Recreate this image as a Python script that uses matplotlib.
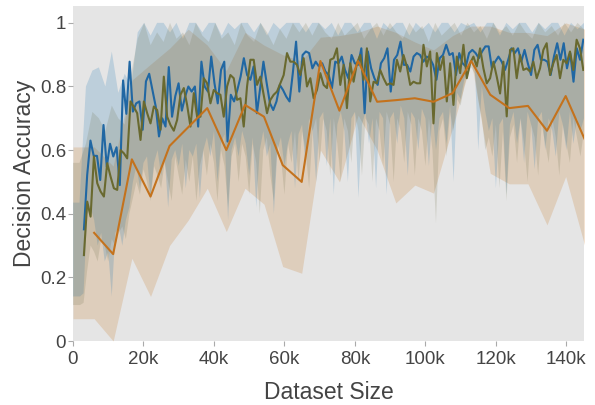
import matplotlib
matplotlib.use("Agg")
import matplotlib.pyplot as plt
import numpy as np

plt.rcParams['font.family'] = ['Liberation Sans', 'DejaVu Sans']

# courbe bleue (moyenne), de 3.1k a 144.8k
blue_mean = [0.351, 0.522, 0.63, 0.582, 0.582, 0.506, 0.679, 0.548, 0.62, 0.58,
             0.609, 0.49, 0.819, 0.714, 0.878, 0.721, 0.747, 0.753, 0.664, 0.816,
             0.84, 0.789, 0.737, 0.643, 0.70, 0.674, 0.861, 0.705, 0.77, 0.81,
             0.724, 0.768, 0.80, 0.784,
             0.80, 0.674, 0.878, 0.80, 0.784, 0.894, 0.81, 0.747, 0.852, 0.878,
             0.627, 0.774, 0.753, 0.789, 0.831, 0.889, 0.836, 0.821, 0.863, 0.716,
             0.795, 0.878, 0.81, 0.747, 0.726, 0.753, 0.805, 0.789, 0.768, 0.753,
             0.842, 0.941, 0.784, 0.899, 0.91, 0.905, 0.857, 0.878, 0.863, 0.873,
             0.847,
             0.836, 0.795, 0.878, 0.873, 0.894, 0.852, 0.826, 0.899, 0.873, 0.868,
             0.92, 0.716, 0.91, 0.857, 0.826, 0.805, 0.873, 0.889, 0.92, 0.784,
             0.884, 0.899, 0.941, 0.868, 0.868, 0.847, 0.894, 0.905, 0.899, 0.878,
             0.894, 0.889, 0.868, 0.821, 0.889, 0.899, 0.931, 0.899,
             0.905, 0.836, 0.905, 0.873, 0.863, 0.905, 0.915, 0.905, 0.889, 0.91,
             0.926, 0.926, 0.857, 0.878, 0.894, 0.878, 0.852, 0.884, 0.92, 0.905,
             0.92, 0.878, 0.915, 0.873, 0.836, 0.915, 0.931, 0.884, 0.884, 0.878,
             0.836, 0.894, 0.936, 0.884, 0.936, 0.857, 0.905, 0.815, 0.92, 0.884,
             0.947]

# courbe olive
olive_mean = [0.27, 0.438, 0.391, 0.58, 0.496, 0.47, 0.454, 0.559, 0.517, 0.48,
              0.475, 0.60, 0.59, 0.574, 0.753, 0.735, 0.716, 0.632, 0.753, 0.716,
              0.684, 0.737, 0.726, 0.664, 0.831, 0.705, 0.679, 0.661, 0.695, 0.774,
              0.795, 0.742,
              0.674, 0.779, 0.705, 0.705, 0.826, 0.81, 0.747, 0.789, 0.779, 0.774,
              0.705, 0.80, 0.836, 0.826, 0.758, 0.763, 0.674, 0.80, 0.884, 0.884,
              0.805, 0.831, 0.774, 0.716, 0.758, 0.774, 0.784, 0.81, 0.836, 0.905,
              0.878, 0.878, 0.868, 0.836, 0.889, 0.80, 0.826, 0.763, 0.789,
              0.842, 0.805, 0.795, 0.884, 0.889, 0.92, 0.805, 0.868, 0.732, 0.873,
              0.815, 0.873, 0.899, 0.821, 0.92, 0.753, 0.815, 0.81, 0.852, 0.826,
              0.805, 0.81, 0.805, 0.884, 0.847, 0.899, 0.863, 0.805, 0.815, 0.81,
              0.81, 0.931, 0.863, 0.91, 0.684, 0.905, 0.852, 0.894, 0.753,
              0.873, 0.742, 0.894, 0.842, 0.931, 0.826, 0.873, 0.894, 0.863, 0.92,
              0.857, 0.81, 0.826, 0.878, 0.831, 0.778, 0.878, 0.706, 0.915, 0.92,
              0.826, 0.899, 0.852, 0.857, 0.847, 0.878, 0.826, 0.857, 0.915, 0.936,
              0.836, 0.873, 0.899, 0.826, 0.884, 0.873, 0.91, 0.852, 0.947, 0.92,
              0.852]

# courbe orange, moins de points (x en milliers)
orange_x = [6.0, 11.4, 16.7, 22.0, 27.4, 32.7, 38.1, 43.5, 48.8, 54.2, 59.5, 64.9,
            70.2, 75.6, 80.9, 86.3, 91.6, 97.0, 102.3, 107.7, 113.0, 118.4, 123.8,
            129.1, 134.5, 139.8, 145.2]
orange_mean = [0.34, 0.273, 0.571, 0.454, 0.613, 0.672, 0.732, 0.60, 0.742, 0.705,
               0.553, 0.50, 0.88, 0.724, 0.88, 0.752, 0.757, 0.763, 0.752, 0.779,
               0.88, 0.774, 0.732, 0.739, 0.661, 0.770, 0.634]
# enveloppe orange (premier point a x=0)
orange_hi = [0.61, 0.61, 0.55, 0.82, 0.87, 0.92, 0.98, 0.93, 0.85, 0.97, 0.93, 0.90,
             0.88, 0.955, 0.96, 0.97, 0.99, 0.97, 0.94, 0.915, 0.96, 0.99, 0.99,
             0.97, 0.97, 0.96, 1.0, 0.98]
orange_lo = [0.07, 0.07, 0.0, 0.26, 0.14, 0.30, 0.38, 0.48, 0.344, 0.48, 0.43,
             0.234, 0.213, 0.60, 0.50, 0.71, 0.60, 0.434, 0.49, 0.465, 0.67, 0.88,
             0.527, 0.494, 0.494, 0.365, 0.517, 0.30]

# bords hauts des enveloppes bleue et olive (grille de 80 points, 0 -> 145k)
blue_hi = [.435, .435, .80, .85, .86, .80, .91, .78, .84, .80,
           .97, 1.0, .96, 1.0, 1.0, .97, 1.0, .95, 1.0, 1.0,
           .97, 1.0, 1.0, .96, 1.0, .98, 1.0, 1.0, .97, 1.0,
           .96, 1.0, .98, 1.0, 1.0, 1.0, .97, 1.0, 1.0, .98,
           1.0, .96, 1.0, 1.0, .97, 1.0, 1.0, .95, 1.0, .98,
           1.0, 1.0, .96, 1.0, .98, 1.0, .97, 1.0, 1.0, .97,
           1.0, .99, 1.0, .97, 1.0, 1.0, .96, 1.0, .98, 1.0,
           1.0, .97, 1.0, .98, 1.0, 1.0, .96, 1.0, .98, 1.0]
olive_hi = [.56, .56, .62, .72, .70, .66, .74, .70, .68, .84,
            .95, 1.0, .93, .97, .94, 1.0, .95, .97, .93, 1.0,
            .96, .94, 1.0, .95, .97, .93, 1.0, .96, .94, 1.0,
            .97, .93, .98, .95, 1.0, .97, 1.0, .96, 1.0, .97,
            .95, 1.0, .96, .98, 1.0, .95, .98, 1.0, .96, 1.0,
            .97, .95, 1.0, .97, .99, .94, 1.0, .96, .98, 1.0,
            .96, 1.0, .97, .99, .95, 1.0, .97, .99, .96, 1.0,
            .97, .95, 1.0, .97, .99, .96, 1.0, .97, 1.0, .98]

# bords bas (un point tous les 1k, de 0 a 145k) : beaucoup de pointes vers le bas
blue_lo = [.14, .14, .14, .15, .40, .42, .38, .30, .34, .25,
           .28, .14, .34, .36, .30, .38, .42, .50, .55, .48,
           .56, .58, .45, .56, .60, .52, .58, .42, .57, .60,
           .55, .62, .48, .60, .58, .62, .45, .60, .64, .58,
           .66, .50, .62, .65, .38, .60, .64, .58, .66, .62,
           .52, .64, .42, .60, .66, .58, .62, .40, .60, .64,
           .55, .62, .66, .48, .65, .68, .55, .70, .66, .50,
           .70, .72, .55, .70, .46, .68, .72, .66, .50, .70,
           .72, .45, .68, .72, .62, .70, .48, .72, .70, .46,
           .70, .72, .62, .74, .70, .52, .72, .70, .60, .73,
           .70, .55, .72, .60, .70, .72, .62, .74, .50, .78,
           .76, .82, .86, .88, .86, .60, .80, .72, .66, .70,
           .48, .68, .70, .46, .68, .72, .62, .70, .56, .72,
           .68, .54, .70, .72, .60, .70, .66, .58, .72, .68,
           .60, .72, .62, .70, .66, .70]
olive_lo = [.113, .113, .113, .12, .22, .30, .28, .25, .32, .30,
            .25, .32, .30, .34, .36, .32, .40, .45, .50, .46,
            .54, .50, .44, .55, .52, .48, .56, .50, .44, .58,
            .52, .46, .57, .50, .58, .44, .55, .60, .52, .62,
            .56, .44, .60, .55, .42, .58, .62, .50, .62, .58,
            .46, .62, .56, .40, .60, .64, .52, .44, .62, .58,
            .46, .62, .56, .66, .50, .66, .60, .48, .66, .70,
            .56, .70, .66, .52, .70, .62, .50, .70, .66, .56,
            .72, .66, .52, .70, .68, .50, .70, .66, .55, .72,
            .68, .50, .70, .66, .56, .72, .68, .52, .70, .66,
            .55, .70, .60, .37, .66, .70, .58, .72, .66, .76,
            .74, .80, .84, .86, .84, .76, .70, .60, .64, .58,
            .68, .48, .66, .44, .64, .68, .56, .70, .62, .50,
            .68, .64, .52, .68, .62, .56, .70, .64, .52, .68,
            .62, .56, .70, .64, .58, .66]

x_ticks = [0, 20000, 40000, 60000, 80000, 100000, 120000, 140000]
x_labels = ["0", "20k", "40k", "60k", "80k", "100k", "120k", "140k"]
y_ticks = [0, 0.2, 0.4, 0.6, 0.8, 1.0]
y_labels = ["0", "0.2", "0.4", "0.6", "0.8", "1"]

c_blue = "#2067a3"
c_olive = "#69692f"
c_orange = "#c4721c"
txt = "#444444"

blue_x = np.linspace(3100, 144800, len(blue_mean))
olive_x = np.linspace(3100, 144800, len(olive_mean))
hi_x = np.linspace(0, 145000, len(blue_hi))
lo_x = np.linspace(0, 145000, len(blue_lo))
orange_xx = np.array(orange_x) * 1000
orange_band_x = np.concatenate([[0], orange_xx])


def band(ax, x_hi, y_hi, x_lo, y_lo, **kw):
    # polygone : bord haut de gauche a droite, puis bord bas de droite a gauche
    xs = np.concatenate([x_hi, x_lo[::-1]])
    ys = np.concatenate([y_hi, np.asarray(y_lo)[::-1]])
    ax.fill(xs, ys, lw=0, **kw)


fig = plt.figure(figsize=(5.95, 4.05), dpi=100)
ax = fig.add_axes([73 / 595, 64 / 405, 511 / 595, 335 / 405])
ax.set_facecolor("#e5e5e5")

ax.fill_between(orange_band_x, orange_lo, orange_hi, color=c_orange, alpha=0.2, lw=0)
band(ax, hi_x, blue_hi, lo_x, blue_lo, color="#1f77b4", alpha=0.2)
band(ax, hi_x, olive_hi, lo_x, olive_lo, color="#6e6e48", alpha=0.18)

ax.plot(blue_x, blue_mean, color=c_blue, lw=1.5)
ax.plot(olive_x, olive_mean, color=c_olive, lw=1.5)
ax.plot(orange_xx, orange_mean, color=c_orange, lw=1.5)

ax.set_xlim(0, 145000)
ax.set_ylim(0, 1.053)
for s in ax.spines.values():
    s.set_visible(False)

ax.set_xticks(x_ticks)
ax.set_xticklabels(x_labels)
ax.set_yticks(y_ticks)
ax.set_yticklabels(y_labels)
ax.tick_params(axis="both", colors="#aaaaaa", labelcolor=txt, labelsize=13.5,
               length=3.5, width=0.8)
ax.tick_params(axis="x", pad=4)
ax.tick_params(axis="y", pad=1.5)

ax.set_xlabel("Dataset Size", fontsize=16.5, color=txt, labelpad=9)
ax.set_ylabel("Decision Accuracy", fontsize=16.5, color=txt, labelpad=2.5)

plt.savefig("out.png", dpi=100)
